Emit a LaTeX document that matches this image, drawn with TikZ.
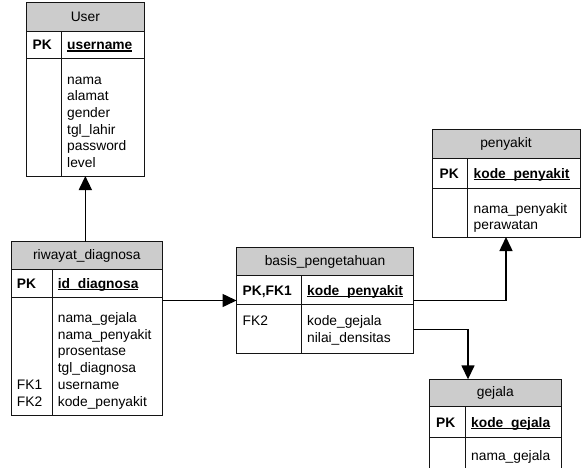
\documentclass[tikz,border=0pt]{standalone}
\usepackage{fontspec}
\setmainfont{Liberation Sans}
\usetikzlibrary{arrows.meta}
\definecolor{hdrgray}{RGB}{204,204,204}
\definecolor{linec}{RGB}{20,20,20}
\newcommand\keyul[1]{\setbox0\hbox{\bfseries #1}\rlap{\rule[-1.8pt]{\wd0}{1.2pt}}\box0}
\newcommand\ertable[9]{%
  \node[hdr, minimum width={(#5-#3)*1pt}, minimum height={(#6-#4)*1pt}, anchor=north west] (#1-h) at (#3,#4) {#2};
  \node[tblbox, minimum width={(#5-#3)*1pt}, minimum height={(#8-#4)*1pt}, anchor=north west] (#1) at (#3,#4) {};
  \draw[rowline] (#3,#7) -- (#5,#7);
  \draw[rowline] (#9,#6) -- (#9,#8);
}
\begin{document}
\begin{tikzpicture}[x=1pt,y=-1pt,
  hdr/.style={draw=linec, fill=hdrgray, line width=0.9pt, inner sep=0pt, outer sep=0pt, font=\fontsize{13.8}{16.7}\selectfont},
  tblbox/.style={draw=linec, line width=0.9pt, inner sep=0pt, outer sep=0pt},
  rowline/.style={draw=linec, line width=0.9pt},
  txt/.style={anchor=base west, inner sep=0pt, font=\fontsize{13.8}{16.7}\selectfont},
  pk/.style={txt, font=\fontsize{13.8}{16.7}\selectfont\bfseries},
  conn/.style={draw=black, line width=1.5pt, -{Triangle[length=14pt,width=13pt]}}]
\useasboundingbox (0,0) rectangle (581,467);
\clip (0,0) rectangle (581,467);
\fill[white] (0,0) rectangle (581,467);

% User
\ertable{user}{User}{26.7}{2}{144}{31}{58.7}{176}{61.7}
\node[pk] (user-pk) at (32.5,49.8) {PK};
\node[txt] (user-key) at (67,49.8) {\keyul{username}};
\foreach \t [count=\i from 0] in {nama,alamat,gender,tgl\_lahir,password,level}
  \node[txt] (user-a\i) at (67,{84+16.7*\i}) {\t};

% riwayat_diagnosa
\ertable{riw}{riwayat\_diagnosa}{11}{241.7}{162.7}{269.3}{297.3}{415}{52.3}
\node[pk] (riw-pk) at (16.7,288.3) {PK};
\node[txt] (riw-key) at (57.7,288.3) {\keyul{id\_diagnosa}};
\foreach \t [count=\i from 0] in {nama\_gejala,nama\_penyakit,prosentase,tgl\_diagnosa,username,kode\_penyakit}
  \node[txt] (riw-a\i) at (57.7,{322.5+16.7*\i}) {\t};
\node[txt] (riw-fk1) at (16.7,{322.5+16.7*4}) {FK1};
\node[txt] (riw-fk2) at (16.7,{322.5+16.7*5}) {FK2};

% basis_pengetahuan
\ertable{bas}{basis\_pengetahuan}{236.5}{247.7}{413.5}{275.5}{304.5}{353}{301}
\node[pk] (bas-pk) at (242.5,295.3) {PK,FK1};
\node[txt] (bas-key) at (307,295.3) {\keyul{kode\_penyakit}};
\node[txt] (bas-fk2) at (242.5,325.5) {FK2};
\node[txt] (bas-a0) at (307,325.5) {kode\_gejala};
\node[txt] (bas-a1) at (307,342.2) {nilai\_densitas};

% penyakit
\ertable{pen}{penyakit}{432}{129}{580}{158}{188.3}{237}{467.3}
\node[pk] (pen-pk) at (439.5,178.2) {PK};
\node[txt] (pen-key) at (473.5,178.2) {\keyul{kode\_penyakit}};
\node[txt] (pen-a0) at (473.5,213) {nama\_penyakit};
\node[txt] (pen-a1) at (473.5,229.7) {perawatan};

% gejala
\ertable{gej}{gejala}{429.3}{379.3}{561.3}{406.7}{437.7}{480}{465}
\node[pk] (gej-pk) at (436,427.2) {PK};
\node[txt] (gej-key) at (471,427.2) {\keyul{kode\_gejala}};
\node[txt] (gej-a0) at (471,460.7) {nama\_gejala};

% connectors
\coordinate (j1) at (0,300.5);
\coordinate (j2) at (468,329.3);
\draw[conn] (user.south |- riw.north) -- (user.south);
\draw[conn] (riw.east |- j1) -- (bas.west |- j1);
\draw[conn] (bas.east |- j1) -| (pen.south);
\draw[conn] (bas.east |- j2) -| (j2 |- gej.north);
\end{tikzpicture}
\end{document}
